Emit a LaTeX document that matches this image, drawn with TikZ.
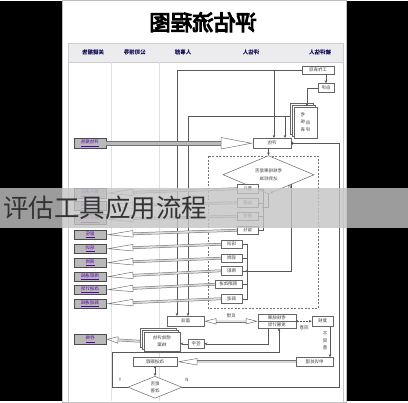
\documentclass[tikz,border=0pt]{standalone}
\usepackage{graphicx}
\usepackage{fontspec}
\setmainfont{Noto Sans CJK SC}
\newfontfamily\titlefont[AutoFakeBold=5]{Noto Sans CJK SC}
\usetikzlibrary{arrows.meta,shapes.geometric,shapes.multipart,shadows,positioning}

\newcommand{\mir}[1]{\reflectbox{#1}}
\newcommand{\lnk}[1]{\underline{\reflectbox{#1}}}

\tikzset{
	pbox/.style={draw=black!60, fill=white, inner sep=0pt, minimum width=#1, minimum height=8.5pt,
		font=\fontsize{4.5}{5}\selectfont, text=black!75},
	pbox/.default=21pt,
	keybox/.style={draw=black!70, fill=gray!55, inner sep=0pt, minimum width=32pt, minimum height=9.5pt,
		font=\fontsize{4.5}{5}\selectfont, text=violet!70!blue},
	decision/.style={diamond, draw=black!60, fill=white, inner sep=0pt, minimum width=#1,
		font=\fontsize{4.5}{5.5}\selectfont, text=black!75},
	docs/.style={draw=black!60, fill=white, inner sep=1pt, font=\fontsize{4.5}{5.5}\selectfont, text=black!75,
		double copy shadow={shadow xshift=-2pt, shadow yshift=2pt, draw=black!60, fill=white}},
	lbl/.style={inner sep=1pt, font=\fontsize{4.5}{5}\selectfont, text=black!75},
	head/.style={font=\fontsize{5.5}{6}\selectfont\bfseries, text=black!70!blue},
	wedge/.style={draw=black!55, double=gray!30, double distance=1.6pt,
		-{Triangle[open, length=27pt, width=7pt]}},
	fat/.style={draw=black!55, double=gray!55, double distance=3.5pt,
		-{Triangle[open, length=32pt, width=12pt]}},
	twin/.style={draw=black!55, double=gray!20, double distance=1.6pt,
		{Triangle[open, length=12pt, width=6pt]}-{Triangle[open, length=12pt, width=6pt]}},
	jdot/.style={circle, fill=black!70, inner sep=0pt, minimum size=2pt}
}

\begin{document}
\begin{tikzpicture}[x=1pt, y=-1pt, >={Stealth[length=3pt,width=2.6pt]}, line width=0.5pt, draw=black!65]
		% page and frame
		\fill[black] (0,0) rectangle (408,400);
		\draw[gray!50, fill=white] (62,-1) rectangle (346,401);
		\draw[gray!45] (68,42) rectangle (343,401);
		\draw[gray!40, fill=blue!7!gray!14] (68,42) rectangle (343,61);
		\foreach \x in {111,159}
			\draw[gray!25] (\x,61) -- (\x,400);

		\draw (203,21) node [font=\titlefont\bfseries\fontsize{21.5}{22}\selectfont] (title) {\mir{评估流程图}};
		\draw (93,51.5) node [head] (h1) {\mir{关键报告}};
		\draw (135,51.5) node [head] (h2) {\mir{公司领导}};
		\draw (183,51.5) node [head] (h3) {\mir{人事部}};
		\draw (251,51.5) node [head] (h4) {\mir{评估人}};
		\draw (320,51.5) node [head] (h5) {\mir{被评估人}};

		\draw[black!55, dash pattern=on 2pt off 1.5pt] (208,155) rectangle (318,307);

		% top of the flow
		\draw (318,69) node [pbox=32pt, minimum height=8pt] (tp) {\mir{工作表现}};
		\draw (326,86.5) node [pbox=16pt] (sf) {\mir{自评}};
		\draw (305.5,121) node [docs, minimum width=23pt, minimum height=31pt] (dk)
			{\mir{\shortstack{自\\评}\,\shortstack{考\\核\\表}}};
		\draw (272,142) node [pbox=38pt, minimum height=10pt] (ev) {\mir{评估}};
		\draw (90,142) node [keybox] (l1) {\lnk{评估报告}};
		\draw (268.5,173.5) node [decision=91pt, minimum height=27pt] (dm)
			{\mir{\shortstack{考核结果是否\\达到标准}}};

		% result boxes
		\draw (247.5,187.5) node [pbox] (r2) {\mir{晋升}};
		\draw (247.5,201.5) node [pbox] (r3) {\mir{加薪}};
		\draw (247.5,215) node [pbox] (r4) {\mir{嘉奖}};
		\draw (247.5,229) node [pbox] (r5) {\mir{留任}};
		\draw (231.5,243) node [pbox] (r6) {\mir{培训}};
		\draw (231.5,257) node [pbox] (r7) {\mir{调岗}};
		\draw (231.5,269.5) node [pbox] (r8) {\mir{降职}};
		\draw (228.5,283) node [pbox=27pt] (r9) {\mir{限期改进}};
		\draw (231.5,297.5) node [pbox] (r10) {\mir{辞退}};

		\draw (90,192) node [keybox] (l2) {\lnk{晋升通知}};
		\draw (90,204.5) node [keybox] (l3) {\lnk{调薪通知}};
		\draw (90,218) node [keybox] (l4) {\lnk{嘉奖通知}};
		\draw (90,233.5) node [keybox] (l5) {\lnk{留任}};
		\draw (90,247.5) node [keybox] (l6) {\lnk{培训}};
		\draw (90,261.5) node [keybox] (l7) {\lnk{调岗}};
		\draw (90,275.5) node [keybox] (l8) {\lnk{降职通知}};
		\draw (90,288.5) node [keybox] (l9) {\lnk{改进计划}};
		\draw (90,302.5) node [keybox] (l10) {\lnk{辞退通知}};
		\draw (90,338) node [keybox] (l11) {\lnk{存档}};

		% bottom of the flow
		\draw (185.5,320) node [pbox=37pt, minimum height=10pt] (ft) {\mir{面谈}};
		\draw (277,320) node [rectangle split, rectangle split parts=2, draw=black!60, fill=white,
			inner sep=1pt, minimum width=38pt, font=\fontsize{4.5}{5}\selectfont, text=black!75] (db)
			{\mir{考核结果} \nodepart{two} \mir{发展计划}};
		\draw (322.5,320) node [pbox, minimum height=10pt] (rv) {\mir{复核}};
		\draw (314.5,360.5) node [pbox=37pt] (ap) {\mir{申诉处理}};
		\draw (155,360.5) node [pbox=44pt] (tr) {\mir{改进跟踪}};
		\draw (162,340) node [docs, minimum width=36pt, minimum height=19pt] (ds)
			{\mir{\shortstack{绩效评估\\档案}}};
		\draw (196,342.5) node [pbox=16pt] (sg) {\mir{签字}};
		\draw (155,386) node [decision=54pt, minimum height=22pt] (bd) {\mir{\shortstack{是否\\改善}}};

		\coordinate (ca) at (263,0);
		\coordinate (cb) at (247,0);
		\coordinate (e1) at ([xshift=2pt]ev.north);
		\coordinate (e2) at ([xshift=13pt]ev.north);
		\coordinate (d1) at ([xshift=-4pt,yshift=6pt]dk.west);
		\coordinate (lp) at (112,351);
		\coordinate (rp) at (339,142);

		% connectors
		\draw[->] (sf.north |- tp.south) -- (sf.north);
		\draw[->] (sf.west) -| ([xshift=1.5pt]dk.north);
		\draw[->] (tp.west) -| ([xshift=-8.5pt]ft.north);
		\draw[->] (tp.west -| e1) -- (e1);
		\draw[->] (d1) -| ([xshift=2.5pt]ft.north);
		\draw[->] (d1 -| e2) -- (e2);
		\draw[->] (ev.south -| dm.north) -- (dm.north);
		\draw[fat] (l1.east) -- (ev.west);

		\draw (dm.south) |- (ca |- r3.south) node [jdot] {};
		\draw (r2.east) -- (r2 -| ca) -- (r5 -| ca) -- (r5.east);
		\draw (r3.east) -- (r3 -| ca);
		\draw (r4.east) -- (r4 -| ca);
		\draw (dm.south east) |- (r8 -| cb) node [jdot] {};
		\draw (r6.east) -- (r6 -| cb) -- (r10 -| cb) -- (r10.east);
		\foreach \i in {7,8,9}
			\draw (r\i.east) -- (r\i -| cb);
		\draw (272,192) node [lbl] (ly) {Y};
		\draw (290,186) node [lbl] (ln) {N};

		\foreach \i in {2,...,10}
			\draw[wedge] (r\i.west) -- (l\i.east);

		\draw[twin] (ft.east) -- node [lbl, above=2pt] {\mir{反馈}} (db.west);
		\draw[densely dotted, {Circle[length=2pt]}->] (db.east) -- node [lbl, below=3pt] {\mir{同意}} (rv.west);
		\draw[->] ([xshift=7.5pt]rv.south) -- ([xshift=7.5pt]rv.south |- ap.north);
		\draw (325,340) node [lbl] (lx) {\mir{\shortstack{不\\同\\意}}};
		\draw[wedge, -{Triangle[open, length=20pt, width=7pt]}] (ap.west) -- (tr.east);
		\draw[->] ([xshift=-9pt]db.south) |- (sg.east);
		\draw[->] (sg.west) -- (sg.west -| ds.east);
		\draw[wedge, -{Triangle[open, length=12pt, width=7pt]}] ([xshift=-4pt]ds.west) -- (l11.east);
		\draw[->] (bd.west) -| (lp) -| ([xshift=2pt]db.south);
		\draw[-{Circle[length=2.5pt]}] (bd.east) -| (rp) -- (ev.east);
		\draw[{Circle[length=2pt]}->] (tr.south) -- (bd.north);
		\draw (120,379) node [lbl] (by) {Y};
		\draw (187,379) node [lbl] (bn) {N};

		% caption band
		\fill[black!23, opacity=.8] (0,187) rectangle (408,227);
		\draw (3,207) node [anchor=west, inner sep=0pt, text=black!80,
			font=\fontsize{25.5}{26}\selectfont] (band) {评估工具应用流程};
	\end{tikzpicture}
\end{document}
